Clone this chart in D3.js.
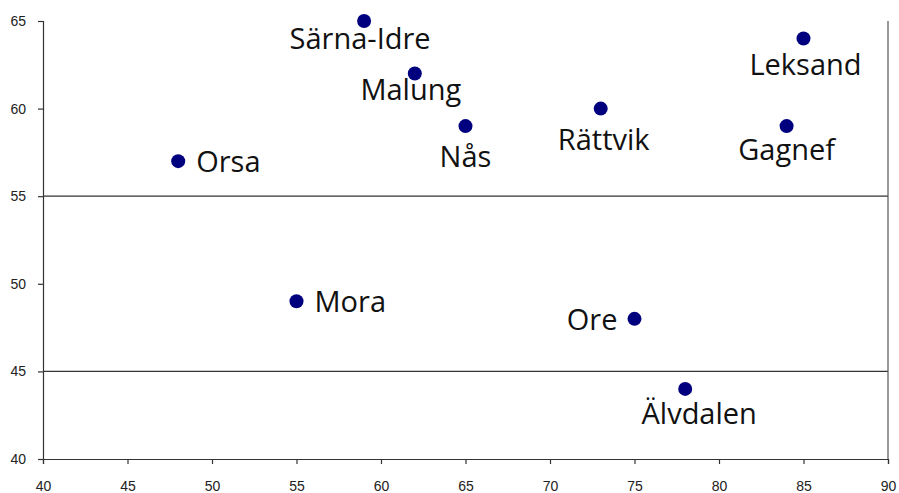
<!DOCTYPE html>
<html>
<head>
<meta charset="utf-8">
<script src="https://cdn.jsdelivr.net/npm/d3@7"></script>
<style>
  body { margin: 0; background: #fff; }
  .tick text { font-family: "Liberation Sans", Arial, sans-serif; font-size: 14px; fill: #222; }
  .pt-label { font-family: "Open Sans", sans-serif; font-size: 29px; fill: #111; }
</style>
</head>
<body>
<div id="chart"></div>
<script>
// municipalities in Dalarna
const names  = ['Orsa', 'Mora', 'Särna-Idre', 'Malung', 'Nås', 'Rättvik', 'Leksand', 'Gagnef', 'Ore', 'Älvdalen'];
const xVals  = [48, 55, 59, 62, 65, 73, 85, 84, 75, 78];
const yVals  = [57, 49, 65, 62, 59, 60, 64, 59, 48, 44];
const labelSide = ['right', 'right', 'below', 'below', 'below', 'below', 'below', 'below', 'left', 'below'];
// small hand nudges for the labels, [dx, dy] in px
const labelNudge = [[0, 0], [0, 0], [-4, -8], [-4, -10], [0, 5], [3, 5], [2, 0], [0, -2], [0, 0], [14, -1]];

const xTicks = [40, 45, 50, 55, 60, 65, 70, 75, 80, 85, 90];
const yTicks = [40, 45, 50, 55, 60, 65];
const gridY  = [45, 55];

const W = 899, H = 493;
const M = { top: 21, right: 11, bottom: 34, left: 43 };

const svg = d3.select('#chart')
  .append('svg')
  .attr('width', W)
  .attr('height', H);

const x = d3.scaleLinear().domain([40, 90]).range([M.left, W - M.right]);
const y = d3.scaleLinear().domain([40, 65]).range([H - M.bottom, M.top]);

// gridlines (only 45 and 55)
svg.selectAll('.grid')
  .data(gridY)
  .join('line')
  .attr('x1', x(40)).attr('x2', x(90))
  .attr('y1', d => y(d)).attr('y2', d => y(d))
  .attr('stroke', '#333').attr('stroke-width', 1.2);

// right border
svg.append('line')
  .attr('x1', x(90)).attr('x2', x(90))
  .attr('y1', y(65)).attr('y2', y(40))
  .attr('stroke', '#555').attr('stroke-width', 1.2);

const xAxis = svg.append('g')
  .attr('transform', `translate(0,${y(40)})`)
  .call(d3.axisBottom(x).tickValues(xTicks).tickSize(5).tickPadding(17).tickFormat(d3.format('d')));

const yAxis = svg.append('g')
  .attr('transform', `translate(${x(40)},0)`)
  .call(d3.axisLeft(y).tickValues(yTicks).tickSize(5).tickPadding(12).tickFormat(d3.format('d')));

[xAxis, yAxis].forEach(g => {
  g.select('.domain').attr('stroke', '#333').attr('stroke-width', 1.2);
  g.selectAll('.tick line').attr('stroke', '#333').attr('stroke-width', 1.2);
});

const pts = names.map((n, i) => ({
  name: n, x: xVals[i], y: yVals[i], side: labelSide[i], nudge: labelNudge[i]
}));

svg.selectAll('.pt')
  .data(pts)
  .join('circle')
  .attr('class', 'pt')
  .attr('cx', d => x(d.x))
  .attr('cy', d => y(d.y))
  .attr('r', 7)
  .attr('fill', '#00007f');

svg.selectAll('.pt-label')
  .data(pts)
  .join('text')
  .attr('class', 'pt-label')
  .attr('x', d => (d.side === 'right' ? x(d.x) + 18 : d.side === 'left' ? x(d.x) - 17 : x(d.x)) + d.nudge[0])
  .attr('y', d => (d.side === 'below' ? y(d.y) + 36 : y(d.y) + 11) + d.nudge[1])
  .attr('text-anchor', d => d.side === 'right' ? 'start' : d.side === 'left' ? 'end' : 'middle')
  .text(d => d.name);
</script>
</body>
</html>
